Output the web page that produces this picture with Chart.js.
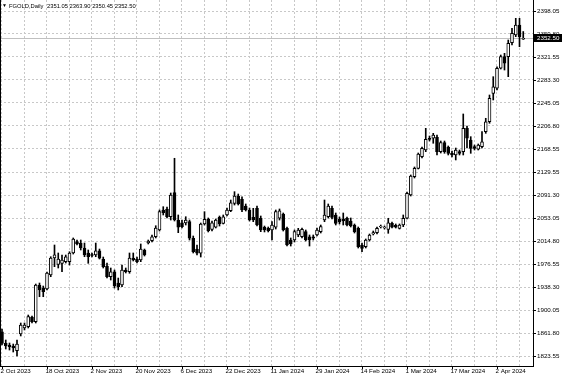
<!DOCTYPE html>
<html>
<head>
<meta charset="utf-8">
<script src="https://cdn.jsdelivr.net/npm/chart.js@4.4.1/dist/chart.umd.min.js"></script>
<style>
  html, body { margin: 0; padding: 0; background: #fff; }
  #wrap { width: 564px; height: 376px; }
</style>
</head>
<body>
<div id="wrap"><canvas id="chart" width="564" height="376"></canvas></div>
<script>
// FGOLD daily candles, one entry per bar (bar 0 = 2 Oct 2023)
const opens = [
  1864.0, 1844.7, 1841.9, 1840.2, 1832.4, 1860.2, 1870.2, 1872.3, 1888.5, 1880.7,
  1941.8, 1936.8, 1935.1, 1958.4, 1986.8, 1976.0, 1977.9, 1980.6, 1980.6, 1995.1,
  2013.9, 2011.7, 2003.4, 1995.1, 1992.6, 1991.7, 1998.9, 1984.6, 1973.4, 1955.6,
  1963.9, 1945.0, 1941.8, 1966.8, 1963.9, 1986.8, 1985.1, 1983.4, 2000.1, 2011.7,
  2015.6, 2022.2, 2033.4, 2066.7, 2068.4, 2055.5, 2095.5, 2050.0, 2045.5, 2045.0,
  2047.2, 2019.6, 2001.7, 1994.6, 2043.4, 2051.7, 2034.5, 2037.9, 2054.5, 2044.5,
  2058.4, 2065.5, 2077.8, 2090.0, 2084.5, 2073.3, 2066.7, 2054.5, 2069.5, 2052.9,
  2037.9, 2036.2, 2033.4, 2037.9, 2052.9, 2060.0, 2036.2, 2016.7, 2016.7, 2025.1,
  2022.2, 2030.6, 2022.2, 2022.2, 2025.1, 2030.6, 2050.0, 2055.5, 2069.5, 2058.4,
  2051.7, 2051.7, 2052.9, 2048.4, 2041.7, 2036.2, 2008.4, 2005.6, 2016.7, 2026.7,
  2028.9, 2038.4, 2037.2, 2034.5, 2044.5, 2041.2, 2036.2, 2041.7, 2052.9, 2091.7,
  2122.1, 2136.1, 2155.5, 2166.6, 2186.1, 2186.1, 2187.8, 2163.8, 2178.8, 2171.6,
  2161.1, 2158.3, 2163.8, 2163.8, 2202.7, 2183.3, 2172.1, 2167.8, 2172.1, 2197.1,
  2213.7, 2261.0, 2269.4, 2302.7, 2322.0, 2322.0, 2345.3, 2358.1, 2374.8, 2351.05
];
const highs = [
  1868.5, 1850.2, 1845.2, 1843.5, 1850.2, 1878.5, 1878.5, 1891.8, 1890.2, 1943.4,
  1945.1, 1940.1, 1963.4, 1988.9, 2008.4, 1995.1, 1991.7, 1991.7, 1997.2, 2020.1,
  2016.7, 2016.7, 2011.7, 2000.1, 1995.1, 2011.7, 2001.7, 1988.4, 1978.4, 1970.1,
  1966.8, 1953.4, 1975.1, 1970.1, 1995.1, 1995.1, 1988.4, 2010.1, 2001.7, 2016.7,
  2025.1, 2040.5, 2066.7, 2072.2, 2071.7, 2095.0, 2152.8, 2058.4, 2050.0, 2055.5,
  2050.0, 2023.4, 2008.4, 2045.0, 2063.9, 2053.4, 2048.4, 2051.7, 2056.7, 2058.4,
  2070.0, 2083.3, 2097.2, 2093.3, 2088.8, 2076.7, 2070.0, 2069.5, 2073.3, 2056.7,
  2040.0, 2038.4, 2047.2, 2066.7, 2068.4, 2061.7, 2038.4, 2020.1, 2033.4, 2036.2,
  2036.7, 2033.4, 2025.1, 2025.1, 2036.7, 2041.7, 2083.3, 2076.7, 2073.3, 2061.7,
  2055.0, 2061.7, 2055.0, 2053.4, 2043.4, 2038.4, 2011.7, 2018.4, 2026.7, 2031.7,
  2038.4, 2041.7, 2040.0, 2052.9, 2046.7, 2043.4, 2043.4, 2058.4, 2096.7, 2125.0,
  2138.3, 2161.6, 2171.6, 2202.7, 2189.9, 2194.4, 2191.6, 2181.6, 2181.6, 2173.3,
  2164.9, 2169.9, 2166.6, 2226.6, 2206.6, 2188.8, 2174.9, 2176.6, 2197.1, 2219.4,
  2258.2, 2288.7, 2305.3, 2324.8, 2327.6, 2349.8, 2369.3, 2385.9, 2385.9, 2363.90
];
const lows = [
  1841.9, 1835.2, 1833.5, 1830.2, 1823.6, 1856.9, 1866.9, 1870.2, 1878.5, 1878.5,
  1922.3, 1922.3, 1933.5, 1955.6, 1972.3, 1970.1, 1963.9, 1978.4, 1975.1, 1993.4,
  2008.4, 2000.1, 1988.9, 1977.9, 1988.4, 1988.9, 1985.1, 1970.1, 1953.4, 1950.1,
  1936.8, 1933.5, 1939.0, 1961.8, 1961.3, 1981.8, 1978.4, 1980.6, 1990.1, 2010.1,
  2013.4, 2020.1, 2031.7, 2058.4, 2053.4, 2050.0, 2048.4, 2028.9, 2036.7, 2041.7,
  2016.7, 1995.1, 1991.7, 1988.4, 2041.7, 2030.1, 2031.7, 2036.7, 2040.0, 2043.4,
  2056.7, 2063.9, 2075.0, 2075.0, 2063.9, 2065.0, 2048.4, 2047.2, 2040.0, 2030.6,
  2030.1, 2030.1, 2016.7, 2035.0, 2050.0, 2031.7, 2006.7, 2006.7, 2013.4, 2022.2,
  2020.1, 2015.1, 2006.7, 2016.7, 2023.4, 2028.4, 2047.2, 2053.4, 2051.7, 2041.7,
  2043.4, 2041.7, 2040.0, 2038.4, 2028.4, 2003.4, 1997.2, 2003.4, 2015.1, 2025.1,
  2026.7, 2036.7, 2035.0, 2027.9, 2036.7, 2036.7, 2035.0, 2038.9, 2051.7, 2090.0,
  2120.0, 2135.0, 2153.3, 2163.8, 2181.6, 2177.8, 2158.3, 2161.6, 2161.1, 2158.3,
  2154.9, 2150.0, 2158.3, 2158.3, 2169.9, 2161.1, 2166.6, 2166.6, 2169.9, 2194.4,
  2211.1, 2249.9, 2266.5, 2301.5, 2299.8, 2288.7, 2341.5, 2355.3, 2338.6, 2350.45
];
const closes = [
  1844.7, 1840.2, 1839.0, 1836.9, 1843.5, 1875.2, 1875.2, 1889.0, 1880.7, 1941.8,
  1933.5, 1930.6, 1961.8, 1986.8, 1992.0, 1985.1, 1983.4, 1988.9, 1995.1, 2018.4,
  2010.1, 2003.4, 1991.7, 1988.9, 1990.9, 1998.9, 1986.3, 1972.3, 1955.6, 1963.9,
  1940.1, 1939.0, 1966.8, 1963.9, 1986.8, 1983.4, 1980.6, 2001.7, 1991.7, 2015.1,
  2022.2, 2036.7, 2063.9, 2062.2, 2055.5, 2091.7, 2050.0, 2037.9, 2038.9, 2050.0,
  2019.6, 1997.2, 1994.6, 2043.4, 2051.2, 2032.2, 2045.5, 2050.0, 2043.4, 2055.5,
  2066.7, 2078.8, 2090.0, 2076.7, 2066.7, 2066.7, 2050.0, 2050.0, 2041.7, 2033.4,
  2033.4, 2032.2, 2041.7, 2063.9, 2065.5, 2033.4, 2008.4, 2010.1, 2030.6, 2033.4,
  2034.5, 2016.7, 2016.7, 2019.6, 2033.4, 2038.9, 2058.4, 2073.3, 2054.5, 2044.5,
  2046.7, 2048.4, 2041.7, 2040.0, 2030.6, 2005.6, 2002.9, 2016.7, 2025.1, 2028.9,
  2036.2, 2039.5, 2038.4, 2045.5, 2037.9, 2037.9, 2041.7, 2052.9, 2094.5, 2123.3,
  2136.1, 2159.9, 2169.4, 2184.4, 2184.4, 2191.6, 2163.8, 2178.8, 2163.8, 2161.1,
  2158.3, 2166.6, 2161.1, 2202.7, 2186.1, 2169.4, 2169.4, 2174.9, 2180.4, 2213.7,
  2252.7, 2272.0, 2302.7, 2322.0, 2311.0, 2344.3, 2360.9, 2374.8, 2355.3, 2352.50
];

// date labels every 12 bars
const dateLabels = ['2 Oct 2023', '18 Oct 2023', '2 Nov 2023', '20 Nov 2023', '6 Dec 2023', '22 Dec 2023',
  '11 Jan 2024', '29 Jan 2024', '14 Feb 2024', '1 Mar 2024', '17 Mar 2024', '2 Apr 2024'];
// price scale labels
const priceTicks = [2398.05, 2359.80, 2321.55, 2283.30, 2245.05, 2206.80, 2168.55, 2129.55,
  2091.30, 2053.05, 2014.80, 1976.55, 1938.30, 1900.05, 1861.80, 1823.55];

const symbol = 'FGOLD,Daily';
const last = opens.length - 1;
const lastClose = closes[last];

const FONT = { family: "'Liberation Sans', Arial, sans-serif", size: 6.2 };

const bodies = opens.map((o, i) => ({ x: i, y: [o, closes[i]] }));
const wicks = lows.map((l, i) => ({ x: i, y: [l, highs[i]] }));
const bodyColors = opens.map((o, i) => closes[i] >= o ? '#ffffff' : '#000000');

const extras = {
  id: 'extras',
  beforeDatasetsDraw(chart) {
    const { ctx, chartArea: a, scales: { y } } = chart;
    const py = Math.round(y.getPixelForValue(lastClose)) + 0.5;
    ctx.save();
    ctx.strokeStyle = '#c0c0c0';
    ctx.lineWidth = 1;
    ctx.beginPath();
    ctx.moveTo(a.left, py);
    ctx.lineTo(a.right, py);
    ctx.stroke();
    ctx.restore();
  },
  afterDraw(chart) {
    const { ctx, chartArea: a, scales: { x, y } } = chart;
    ctx.save();
    ctx.strokeStyle = '#000';
    ctx.lineWidth = 1;
    // left frame
    ctx.beginPath();
    ctx.moveTo(a.left + 0.5, a.top);
    ctx.lineTo(a.left + 0.5, a.bottom);
    ctx.stroke();
    // date tick marks and labels
    ctx.fillStyle = '#000';
    ctx.font = FONT.size + 'px ' + FONT.family;
    ctx.textBaseline = 'middle';
    ctx.textAlign = 'left';
    dateLabels.forEach((d, k) => {
      const px = Math.round(x.getPixelForValue(k * 12)) + 0.5;
      ctx.beginPath();
      ctx.moveTo(px, a.bottom);
      ctx.lineTo(px, a.bottom + 3);
      ctx.stroke();
      ctx.fillText(d, px - 2, a.bottom + 5);
    });
    // price tick marks
    priceTicks.forEach(v => {
      const py = Math.round(y.getPixelForValue(v)) + 0.5;
      ctx.beginPath();
      ctx.moveTo(a.right, py);
      ctx.lineTo(a.right + 3, py);
      ctx.stroke();
    });
    // current price box
    const cy = y.getPixelForValue(lastClose);
    ctx.fillStyle = '#000';
    ctx.fillRect(a.right + 1, Math.round(cy) - 4, 28, 8);
    ctx.fillStyle = '#fff';
    ctx.fillText(lastClose.toFixed(2), a.right + 4, cy);
    // header
    ctx.fillStyle = '#000';
    ctx.font = '5px ' + FONT.family;
    ctx.fillText('\u25BC', 2, 6);
    ctx.font = '5.8px ' + FONT.family;
    ctx.fillText(symbol, 9, 6);
    ctx.fillText([opens[last], highs[last], lows[last], closes[last]].map(v => v.toFixed(2)).join(' '), 47, 6);
    ctx.restore();
  }
};

const ctx = document.getElementById('chart').getContext('2d');
new Chart(ctx, {
  type: 'bar',
  data: {
    datasets: [
      {
        label: 'body',
        data: bodies,
        backgroundColor: bodyColors,
        borderColor: '#000',
        borderWidth: 1,
        borderSkipped: false,
        barThickness: 3,
        grouped: false,
        order: 0
      },
      {
        label: 'wick',
        data: wicks,
        backgroundColor: '#000',
        borderWidth: 0,
        barThickness: 1,
        grouped: false,
        order: 1
      }
    ]
  },
  options: {
    responsive: false,
    devicePixelRatio: 1,
    animation: false,
    events: [],
    layout: { padding: 0 },
    plugins: {
      legend: { display: false },
      tooltip: { enabled: false }
    },
    scales: {
      x: {
        type: 'linear',
        position: 'bottom',
        offset: false,
        min: -0.5333,
        max: 141.6,
        afterBuildTicks: axis => {
          const t = [];
          for (let v = 0; v <= 138; v += 6) t.push({ value: v });
          axis.ticks = t;
        },
        afterFit: axis => {
          axis.height = 10;
          axis.paddingLeft = 0;
          axis.paddingRight = 0;
        },
        ticks: { display: false },
        grid: { color: '#c8c8c8', drawTicks: false, offset: false },
        border: { display: true, color: '#000', width: 1, dash: [2, 2] }
      },
      y: {
        type: 'linear',
        position: 'right',
        min: 1806.9,
        max: 2416.4,
        afterBuildTicks: axis => {
          axis.ticks = priceTicks.map(v => ({ value: v }));
        },
        afterFit: axis => {
          axis.width = 31;
          axis.paddingTop = 0;
          axis.paddingBottom = 0;
        },
        ticks: {
          autoSkip: false,
          padding: 4,
          color: '#000',
          font: FONT,
          callback: v => v.toFixed(2)
        },
        grid: { color: '#c8c8c8', drawTicks: false },
        border: { display: true, color: '#000', width: 1, dash: [2, 2] }
      }
    }
  },
  plugins: [extras]
});
</script>
</body>
</html>
